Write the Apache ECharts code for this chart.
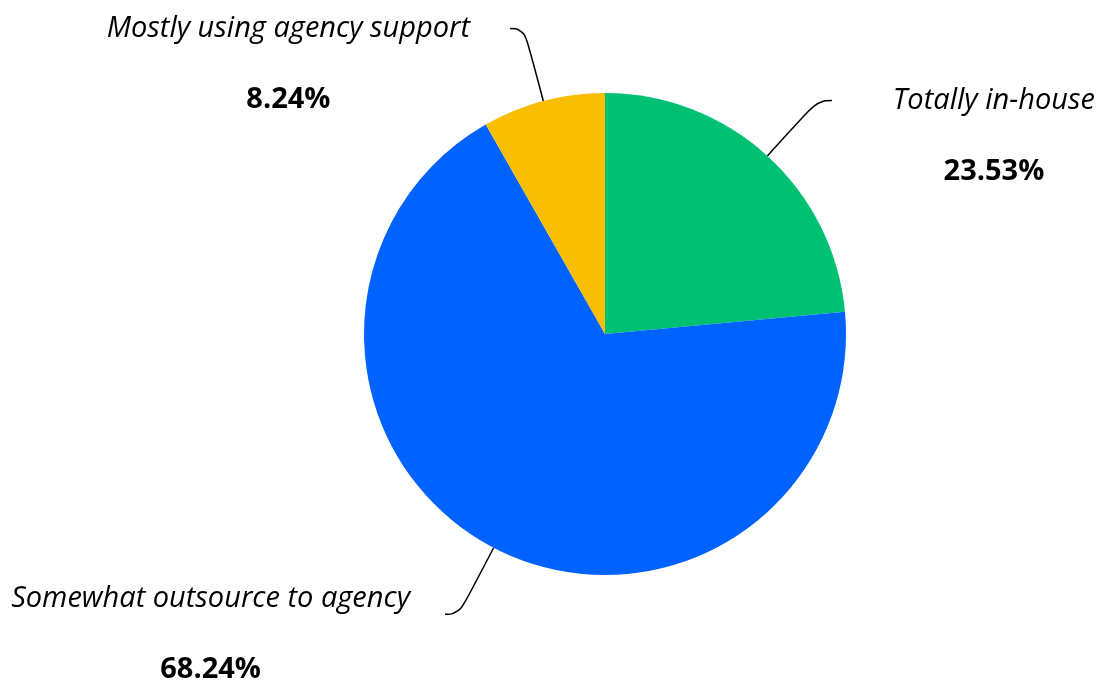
<!DOCTYPE html>
<html>
<head>
<meta charset="utf-8">
<title>Agency usage</title>
<script src="https://cdn.jsdelivr.net/npm/echarts@6/dist/echarts.min.js"></script>
<style>
  html, body { margin: 0; padding: 0; background: #ffffff; }
  #chart { width: 1098px; height: 680px; }
</style>
</head>
<body>
<div id="chart"></div>
<script>
// Share of teams by how their work is resourced
const categories = ['Totally in-house', 'Somewhat outsource to agency', 'Mostly using agency support'];
const shares = [23.53, 68.24, 8.24];
const sliceColors = ['#00c073', '#0062ff', '#f9be00'];
// horizontal gap between each label-line end and its text block
const labelGaps = [61, 35, 40];
// extra space above each label block (smaller value lifts the text)
const labelTopPad = [71, 39, 71];

const LINE_H = 71;

const seriesData = categories.map((name, i) => ({
  name: name,
  value: shares[i],
  itemStyle: { color: sliceColors[i] },
  label: {
    distanceToLabelLine: labelGaps[i],
    padding: [labelTopPad[i], 0, 0, 0]
  }
}));

const chart = echarts.init(document.getElementById('chart'), null, { renderer: 'canvas' });

chart.setOption({
  animation: false,
  backgroundColor: '#ffffff',
  series: [{
    type: 'pie',
    center: [605, 334],
    radius: [0, 241],
    startAngle: 90,
    clockwise: true,
    avoidLabelOverlap: false,
    data: seriesData,
    emphasis: { disabled: true },
    label: {
      show: true,
      position: 'outside',
      formatter: p => '{name|' + p.name + '}\n{pct|' + p.value.toFixed(2) + '%}',
      rich: {
        name: {
          fontFamily: 'Open Sans',
          fontStyle: 'italic',
          fontSize: 29,
          color: '#000000',
          lineHeight: LINE_H,
          align: 'center'
        },
        pct: {
          fontFamily: 'Open Sans',
          fontWeight: 'bold',
          fontSize: 29,
          color: '#000000',
          lineHeight: LINE_H,
          align: 'center'
        }
      }
    },
    labelLine: {
      show: true,
      length: 75,
      length2: 14,
      smooth: 0.5,
      lineStyle: { color: '#000000', width: 1.5 }
    }
  }]
});
</script>
</body>
</html>
